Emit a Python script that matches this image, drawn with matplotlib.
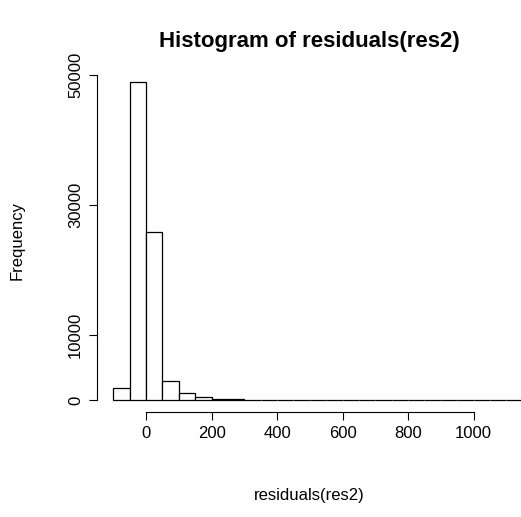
import numpy as np
import matplotlib
matplotlib.use("Agg")
import matplotlib.pyplot as plt

plt.rcParams['font.family'] = ['Liberation Sans', 'DejaVu Sans']

# histogram of residuals, bins of width 50
bin_edges = np.arange(-100, 1151, 50)
counts = [1850, 48900, 25800, 2900, 1050, 450, 220, 110, 60, 40, 30, 20, 15, 10,
          8, 6, 5, 4, 3, 3, 2, 2, 1, 1, 1]
y_ticks = [0, 10000, 30000, 50000]
x_ticks = [0, 200, 400, 600, 800, 1000]

W, H = 521, 517
fig = plt.figure(figsize=(W / 100, H / 100), dpi=100)
ax = fig.add_axes([97 / W, (H - 412) / H, (521 - 97) / W, (412 - 69) / H])

ax.bar(bin_edges[:-1], counts, width=50, align='edge',
       facecolor='white', edgecolor='black', linewidth=0.9)

ax.set_xlim(-150, 1145)
ax.set_ylim(-1846, 50960)
ax.set_xticks(x_ticks)
ax.set_yticks(y_ticks)
ax.set_yticklabels([str(v) for v in y_ticks], rotation=90, va='center')
for s in ['top', 'right']:
    ax.spines[s].set_visible(False)
ax.spines['bottom'].set_bounds(0, 1000)
ax.spines['left'].set_bounds(0, 50000)
ax.tick_params(labelsize=12, length=6, pad=4)

ax.set_title('Histogram of residuals(res2)', fontsize=16, fontweight='bold', pad=16)
ax.set_xlabel('residuals(res2)', fontsize=12, labelpad=34)
ax.set_ylabel('Frequency', fontsize=12, labelpad=31)

fig.savefig('out.png', dpi=100)
